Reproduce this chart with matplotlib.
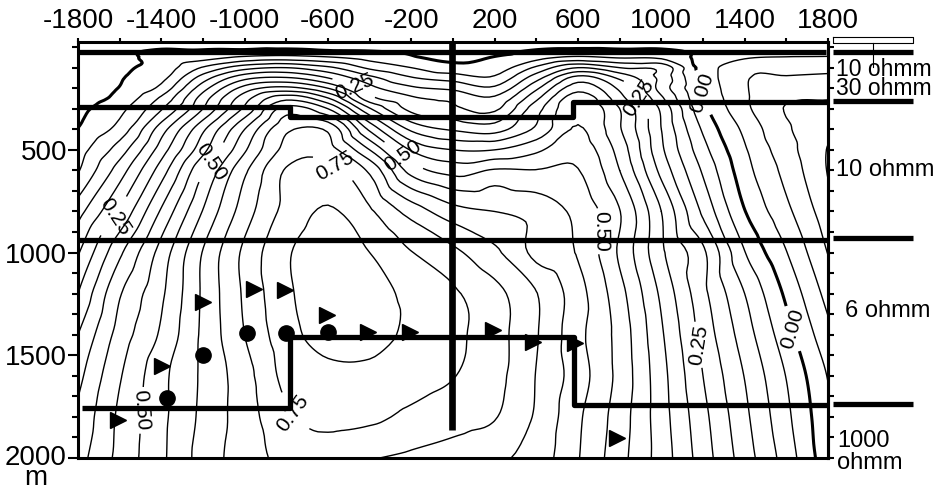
import numpy as np
import matplotlib
matplotlib.use("Agg")
import matplotlib.pyplot as plt
import matplotlib.tri as mtri

plt.rcParams['font.family'] = ['Liberation Sans', 'DejaVu Sans']
plt.rcParams['contour.negative_linestyle'] = 'solid'
plt.rcParams['axes.unicode_minus'] = False

# ---- profile grid: horizontal distance (m) and depth (m) ----
x_pos = [-1800, -1600, -1400, -1200, -1000, -800, -600, -400, -200, 0,
         200, 400, 600, 800, 1000, 1200, 1400, 1600, 1800]
depth_pos = [-25, 25, 50, 100, 150, 200, 250, 300, 400, 500, 600,
             800, 1000, 1200, 1400, 1600, 1800, 2000]

# normalised response, one row per depth (values along x_pos)
z_m25 = [-0.04, -0.035, -0.03, -0.03, -0.03, -0.03, -0.03, -0.03, -0.03, -0.035, -0.035, -0.03, -0.03, -0.03, -0.03, -0.035, -0.035, -0.035, -0.035]
z_25 = [-0.035, -0.01, 0.01, 0.01, 0.015, 0.02, 0.01, 0.005, -0.005, -0.02, -0.01, 0.01, 0.02, 0.015, 0.015, -0.01, -0.03, -0.035, -0.04]
z_50 = [-0.035, -0.012, 0.015, 0.03, 0.06, 0.07, 0.055, 0.03, 0.005, -0.01, 0.002, 0.03, 0.06, 0.045, 0.04, -0.015, -0.045, -0.052, -0.053]
z_100 = [-0.03, -0.007, 0.02, 0.105, 0.18, 0.20, 0.16, 0.09, 0.05, 0.015, 0.02, 0.11, 0.20, 0.15, 0.135, -0.02, -0.085, -0.08, -0.085]
z_150 = [-0.03, -0.003, 0.035, 0.175, 0.285, 0.305, 0.25, 0.165, 0.105, 0.08, 0.06, 0.18, 0.32, 0.24, 0.135, -0.012, -0.095, -0.105, -0.11]
z_200 = [-0.025, 0.002, 0.065, 0.23, 0.37, 0.415, 0.35, 0.22, 0.16, 0.14, 0.11, 0.24, 0.38, 0.29, 0.13, -0.005, -0.095, -0.125, -0.13]
z_250 = [-0.02, 0.015, 0.11, 0.275, 0.43, 0.535, 0.455, 0.27, 0.21, 0.19, 0.16, 0.29, 0.43, 0.32, 0.16, 0.003, -0.092, -0.143, -0.148]
z_300 = [-0.012, 0.035, 0.145, 0.30, 0.46, 0.62, 0.55, 0.355, 0.235, 0.21, 0.19, 0.33, 0.44, 0.35, 0.19, 0.015, -0.087, -0.153, -0.16]
z_400 = [0.002, 0.07, 0.227, 0.39, 0.55, 0.69, 0.69, 0.49, 0.34, 0.294, 0.28, 0.36, 0.455, 0.355, 0.20, 0.043, -0.061, -0.143, -0.185]
z_500 = [0.025, 0.125, 0.275, 0.434, 0.593, 0.715, 0.72, 0.60, 0.445, 0.40, 0.40, 0.44, 0.48, 0.38, 0.21, 0.068, -0.044, -0.13, -0.203]
z_600 = [0.045, 0.175, 0.325, 0.495, 0.64, 0.755, 0.765, 0.69, 0.53, 0.48, 0.505, 0.502, 0.502, 0.40, 0.235, 0.093, -0.03, -0.116, -0.203]
z_800 = [0.13, 0.256, 0.407, 0.553, 0.675, 0.765, 0.805, 0.758, 0.68, 0.62, 0.60, 0.58, 0.535, 0.452, 0.30, 0.14, 0.002, -0.087, -0.18]
z_1000 = [0.195, 0.34, 0.47, 0.603, 0.711, 0.793, 0.825, 0.80, 0.752, 0.712, 0.66, 0.586, 0.545, 0.442, 0.31, 0.21, 0.052, -0.048, -0.152]
z_1200 = [0.25, 0.395, 0.491, 0.608, 0.708, 0.79, 0.825, 0.82, 0.786, 0.757, 0.716, 0.652, 0.57, 0.468, 0.34, 0.214, 0.10, -0.01, -0.118]
z_1400 = [0.30, 0.42, 0.508, 0.61, 0.70, 0.78, 0.82, 0.82, 0.788, 0.762, 0.72, 0.654, 0.565, 0.481, 0.357, 0.232, 0.125, 0.02, -0.085]
z_1600 = [0.335, 0.445, 0.535, 0.609, 0.68, 0.765, 0.785, 0.785, 0.77, 0.752, 0.717, 0.648, 0.574, 0.484, 0.368, 0.25, 0.148, 0.048, -0.053]
z_1800 = [0.36, 0.46, 0.537, 0.612, 0.675, 0.742, 0.765, 0.76, 0.739, 0.721, 0.703, 0.643, 0.559, 0.475, 0.372, 0.265, 0.162, 0.062, -0.04]
z_2000 = [0.38, 0.465, 0.54, 0.62, 0.675, 0.715, 0.72, 0.703, 0.69, 0.676, 0.66, 0.628, 0.553, 0.468, 0.377, 0.275, 0.175, 0.077, -0.033]

# receivers (triangles) and sources (dots)
tri_x = [-1200, -955, -805, -605, -410, -205, 190, 385, 585, 785, -1395, -1610]
tri_depth = [1240, 1175, 1180, 1305, 1385, 1385, 1375, 1435, 1440, 1905, 1550, 1815]
dot_x = [-1375, -1200, -990, -800, -600]
dot_depth = [1710, 1500, 1390, 1390, 1385]

# layer boundaries (x, depth vertices)
top_layer_x = [-1800, 1790]
top_layer_d = [22, 22]
second_layer_x = [-1800, -782, -782, 576, 576, 1795]
second_layer_d = [291, 291, 340, 340, 267, 267]
third_layer_x = [-1800, 1795]
third_layer_d = [937, 937]
fourth_layer_x = [-1780, -782, -782, 580, 580, 1795]
fourth_layer_d = [1757, 1757, 1411, 1411, 1742, 1742]
well_x = [-5, -5]
well_d = [-25, 1864]
outside_x = [1824, 2208]
outside_d = [22, 262, 930, 1735]

# resistivity annotations: text, pixel anchor (x, y), font size, line spacing
res_text = ["10 ohmm\n30 ohmm", "10 ohmm", "6 ohmm", "1000\nohmm"]
res_px = [(836, 79), (836, 170), (845, 311), (837, 452)]
res_size = [16.5, 17, 17, 17]
res_spacing = [0.76, 1.0, 1.0, 0.97]

# depth axis
depth_ticks = [500, 1000, 1500]
depth_ticklabels = ["500", "1000", "1500"]

levels_all = np.round(np.arange(-0.20, 0.851, 0.05), 2)
labelled = [0.25, 0.5, 0.75]
plain_levels = [lv for lv in levels_all if abs(lv) > 1e-9 and lv not in labelled]

# contour label anchors per level
lab_pos = {
    0.25: [(-1613, 832), (-470, 184), (883, 257), (1171, 1450)],
    0.5: [(-1157, 564), (-235, 525), (706, 895), (-1502, 1767)],
    0.75: [(-595, 627), (-775, 1785)],
    0.0: [(1195, 223), (1608, 1377)],
}

W, H = 948, 490
fig = plt.figure(figsize=(W / 100, H / 100), dpi=100)
ax = fig.add_axes([78 / W, 1 - 458 / H, 750 / W, 416 / H])

Z = np.array([z_m25, z_25, z_50, z_100, z_150, z_200, z_250, z_300, z_400, z_500,
              z_600, z_800, z_1000, z_1200, z_1400, z_1600, z_1800, z_2000])
X, D = np.meshgrid(x_pos, depth_pos)
tri = mtri.Triangulation(X.ravel(), D.ravel())
interp = mtri.CubicTriInterpolator(tri, Z.ravel(), kind='geom')
refiner = mtri.UniformTriRefiner(tri)
tri_f, z_f = refiner.refine_field(Z.ravel(), triinterpolator=interp, subdiv=3)

ax.tricontour(tri_f, z_f, levels=plain_levels, colors='k', linewidths=1.0, zorder=2)
lab_kw = dict(fmt='%.2f', fontsize=15, inline=True, inline_spacing=3, colors='k')
for lv in labelled + [0.0]:
    lw = 2.2 if lv == 0.0 else 1.0
    cs_lv = ax.tricontour(tri_f, z_f, levels=[lv], colors='k', linewidths=lw, zorder=2)
    ax.clabel(cs_lv, manual=lab_pos[lv], **lab_kw)

bkw = dict(color='k', lw=3.8, solid_capstyle='butt', zorder=5)
ax.plot(top_layer_x, top_layer_d, **bkw)
ax.plot(second_layer_x, second_layer_d, **bkw)
ax.plot(third_layer_x, third_layer_d, **bkw)
ax.plot(fourth_layer_x, fourth_layer_d, **bkw)
ax.plot(well_x, well_d, color='k', lw=4.8, solid_capstyle='butt', zorder=5)
for dd in outside_d:
    ax.plot(outside_x, [dd, dd], clip_on=False, **bkw)
# small marker frame above the right margin
ax.plot([1824, 2208, 2208, 1824, 1824], [-49, -49, -20, -20, -49], color='k', lw=0.8, clip_on=False)
ax.plot([2016, 2016], [-20, 97], color='k', lw=0.8, clip_on=False)

ax.plot(tri_x, tri_depth, linestyle='none', marker='>', ms=11, color='k', zorder=6)
ax.plot(dot_x, dot_depth, linestyle='none', marker='o', ms=11, color='k', zorder=6)

ax.set_xlim(-1800, 1800)
ax.set_ylim(2000, -25)
ax.xaxis.set_ticks_position('top')
ax.set_xticks(np.arange(-1800, 1801, 400))
ax.set_xticks(np.arange(-1600, 1700, 400), minor=True)
ax.tick_params(axis='x', which='both', top=True, bottom=False, labeltop=True,
               labelbottom=False, direction='out', length=3, width=1.5,
               labelsize=20, pad=3)
ax.set_yticks(depth_ticks + [2000], depth_ticklabels + [""])
ax.set_yticks(np.arange(0, 2001, 100), minor=True)
ax.tick_params(axis='y', which='major', left=True, right=False, direction='out',
               length=7, width=1.5, labelsize=20, pad=1)
ax.tick_params(axis='y', which='minor', left=True, right=False, direction='out',
               length=4, width=1.5)
sec = ax.secondary_yaxis('right')
sec.set_yticks(np.arange(0, 2001, 100))
sec.tick_params(length=4, width=1.5, direction='out', labelright=False)
sec.spines['right'].set_linewidth(2.2)
for s in ax.spines.values():
    s.set_linewidth(2.2)

# bottom depth label with its unit underneath
fig.text(67 / W, 1 - 468 / H, "2000\nm", ha='right', va='center', multialignment='center',
         fontsize=20, linespacing=0.74)

for txt, (px, py), fs, ls in zip(res_text, res_px, res_size, res_spacing):
    fig.text(px / W, 1 - py / H, txt, ha='left', va='center', fontsize=fs, linespacing=ls)

fig.savefig('out.png', dpi=100)
